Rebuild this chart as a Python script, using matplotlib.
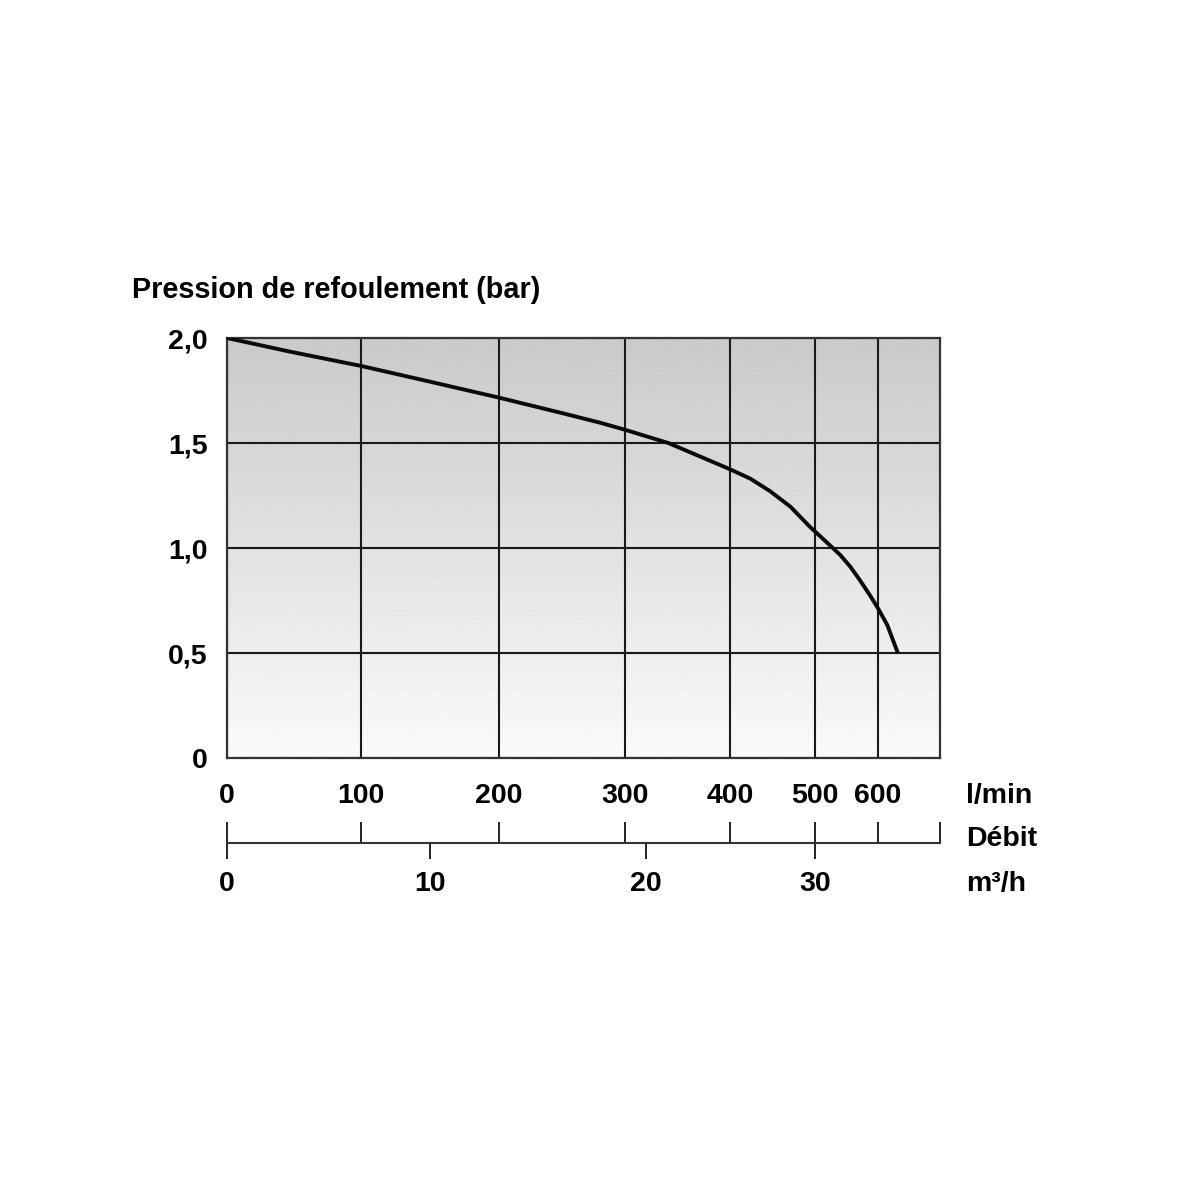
import numpy as np
import matplotlib
matplotlib.use('Agg')
import matplotlib.pyplot as plt

# pump curve
flow_lmin = [0, 47, 100, 166.7, 200, 251, 280, 300, 351, 400, 424, 447, 471,
             494, 524, 540, 556, 571, 587, 600, 615, 632]
pressure_bar = [2.0, 1.935, 1.867, 1.792, 1.716, 1.641, 1.597, 1.563, 1.5,
                1.375, 1.33, 1.271, 1.197, 1.101, 1.012, 0.967, 0.911, 0.848,
                0.776, 0.713, 0.633, 0.5]

lmin_ticks = [0, 100, 200, 300, 400, 500, 600]
m3h_ticks = [0, 10, 20, 30]
bar_ticks = [0, 0.5, 1.0, 1.5, 2.0]
bar_labels = ['0', '0,5', '1,0', '1,5', '2,0']

# the flow axis of the original is drawn distorted, not linear
scale_lmin = [0, 100, 166.7, 200, 300, 333.3, 400, 500, 600, 700]
scale_pos = [0, 134, 203, 272, 398, 419, 503, 588, 651, 713]

font = ['Liberation Sans', 'DejaVu Sans']
fs = 20.5


def fwd(x):
    return np.interp(x, scale_lmin, scale_pos)


def inv(p):
    return np.interp(p, scale_pos, scale_lmin)


def bold_labels(labels):
    for lab in labels:
        lab.set_family(font)
        lab.set_fontweight('bold')
        lab.set_fontsize(fs)


fig = plt.figure(figsize=(11.84, 11.84), dpi=100)
W = H = 1184
ax = fig.add_axes([227 / W, 1 - 758 / H, 713 / W, 420 / H])
ax.set_xscale('function', functions=(fwd, inv))
ax.set_xlim(0, 700)
ax.set_ylim(0, 2)

# grey gradient behind the grid
grad = np.linspace(0.98, 0.79, 256).reshape(-1, 1)
ax.imshow(grad, cmap='gray', vmin=0, vmax=1, extent=[0, 1, 0, 1],
          transform=ax.transAxes, aspect='auto', zorder=0, origin='lower')

ax.set_xticks(lmin_ticks)
ax.set_xticklabels([str(t) for t in lmin_ticks])
ax.set_yticks(bar_ticks)
ax.set_yticklabels(bar_labels)
ax.tick_params(length=0)
ax.tick_params(axis='x', pad=18)
ax.tick_params(axis='y', pad=14)
bold_labels(ax.get_xticklabels() + ax.get_yticklabels())
ax.grid(True, color='#1a1a1a', lw=1.5, zorder=1)
for s in ax.spines.values():
    s.set_color('#333333')
    s.set_linewidth(1.6)

ax.plot(flow_lmin, pressure_bar, color='#0a0a0a', lw=2.8, zorder=3,
        solid_capstyle='butt', solid_joinstyle='round')

# second flow scale: l/min ticks up, m3/h ticks down
ax2 = fig.add_axes([227 / W, 1 - 843 / H, 713 / W, 0.0001])
ax2.set_xscale('function', functions=(fwd, inv))
ax2.set_xlim(0, 700)
ax2.set_yticks([])
for side in ['top', 'left', 'right']:
    ax2.spines[side].set_visible(False)
ax2.spines['bottom'].set_linewidth(1.5)
ax2.spines['bottom'].set_color('#333333')
ax2.xaxis.remove_overlapping_locs = False
ax2.set_xticks(lmin_ticks + [700])
ax2.set_xticks([m * 1000 / 60 for m in m3h_ticks], minor=True)
ax2.set_xticklabels([str(m) for m in m3h_ticks], minor=True)
ax2.tick_params(which='major', direction='in', length=15, width=1.4,
                color='#222222', labelbottom=False)
ax2.tick_params(which='minor', direction='out', length=11.5, width=1.4,
                color='#222222', pad=9)
bold_labels(ax2.get_xticklabels(minor=True))

fig.text(132 / W, 1 - 290 / H, 'Pression de refoulement (bar)', family=font,
         fontweight='bold', fontsize=20.8, va='center', ha='left')
fig.text(966 / W, 1 - 796 / H, 'l/min', family=font, fontweight='bold',
         fontsize=fs, va='center', ha='left')
fig.text(966 / W, 1 - 839 / H, 'Débit', family=font, fontweight='bold',
         fontsize=20.5, va='center', ha='left')
fig.text(966 / W, 1 - 884 / H, 'm³/h', family=font, fontweight='bold',
         fontsize=fs, va='center', ha='left')

fig.savefig('out.png', dpi=100, facecolor='white')
